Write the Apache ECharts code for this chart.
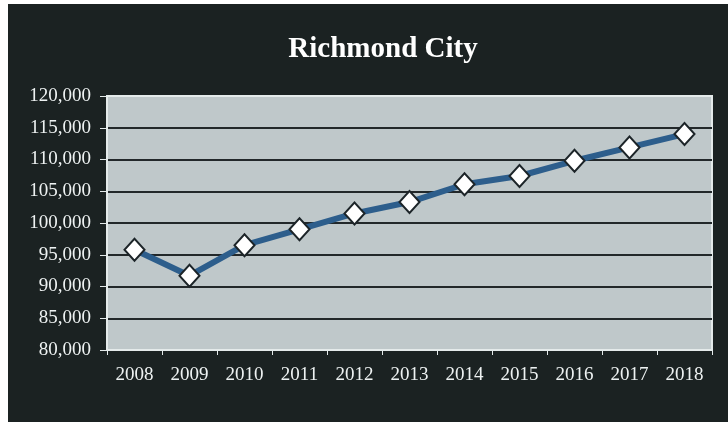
<!DOCTYPE html>
<html>
<head>
<meta charset="utf-8">
<script src="https://cdn.jsdelivr.net/npm/echarts@6/dist/echarts.min.js"></script>
<style>
  html, body { margin: 0; padding: 0; background: #ffffff; }
  #main { position: absolute; left: 8px; top: 4px; width: 720px; height: 418px; }
</style>
</head>
<body>
<div id="main"></div>
<script>
// 年份（x轴类别）
const years = ['2008', '2009', '2010', '2011', '2012', '2013', '2014', '2015', '2016', '2017', '2018'];
// 人口数据
const population = [95800, 91700, 96500, 99000, 101500, 103300, 106100, 107400, 109800, 111900, 114000];
// y轴范围
const yMin = 80000;
const yMax = 120000;
const yStep = 5000;

const chart = echarts.init(document.getElementById('main'));

const serif = '"Liberation Serif", "DejaVu Serif", serif';
const labelColor = '#eef2f2';

const option = {
    backgroundColor: '#1b2222',
    animation: false,
    title: {
        text: 'Richmond City',
        left: 370,
        top: 26,
        textAlign: 'center',
        textStyle: {
            color: '#ffffff',
            fontFamily: serif,
            fontWeight: 'bold',
            fontSize: 29
        }
    },
    grid: {
        left: 99,
        right: 16,
        top: 92,
        bottom: 72,
        show: true,
        backgroundColor: '#bfc8ca',
        borderColor: '#e4eaea',
        borderWidth: 2
    },
    xAxis: {
        type: 'category',
        data: years,
        boundaryGap: true,
        axisLine: { lineStyle: { color: '#e4eaea', width: 2 } },
        axisTick: { show: true, length: 5, lineStyle: { color: '#e4eaea' } },
        axisLabel: {
            color: labelColor,
            fontFamily: serif,
            fontSize: 19,
            margin: 16
        }
    },
    yAxis: {
        type: 'value',
        min: yMin,
        max: yMax,
        interval: yStep,
        axisLine: { show: true, lineStyle: { color: '#e4eaea', width: 2 } },
        axisTick: { show: true, length: 7, lineStyle: { color: '#e4eaea' } },
        axisLabel: {
            color: labelColor,
            fontFamily: serif,
            fontSize: 19,
            margin: 16,
            formatter: v => v.toLocaleString('en-US')
        },
        splitLine: {
            lineStyle: {
                // 顶部和底部用浅色，中间为深色网格线
                color: ['#e4eaea', '#22282a', '#22282a', '#22282a', '#22282a',
                        '#22282a', '#22282a', '#22282a', '#e4eaea'],
                width: 2
            }
        }
    },
    series: [{
        type: 'line',
        data: population,
        symbol: 'diamond',
        symbolSize: [20, 22],
        lineStyle: { color: '#2d5e8c', width: 6 },
        itemStyle: { color: '#ffffff', borderColor: '#1c2428', borderWidth: 2 }
    }]
};

chart.setOption(option);
</script>
</body>
</html>
